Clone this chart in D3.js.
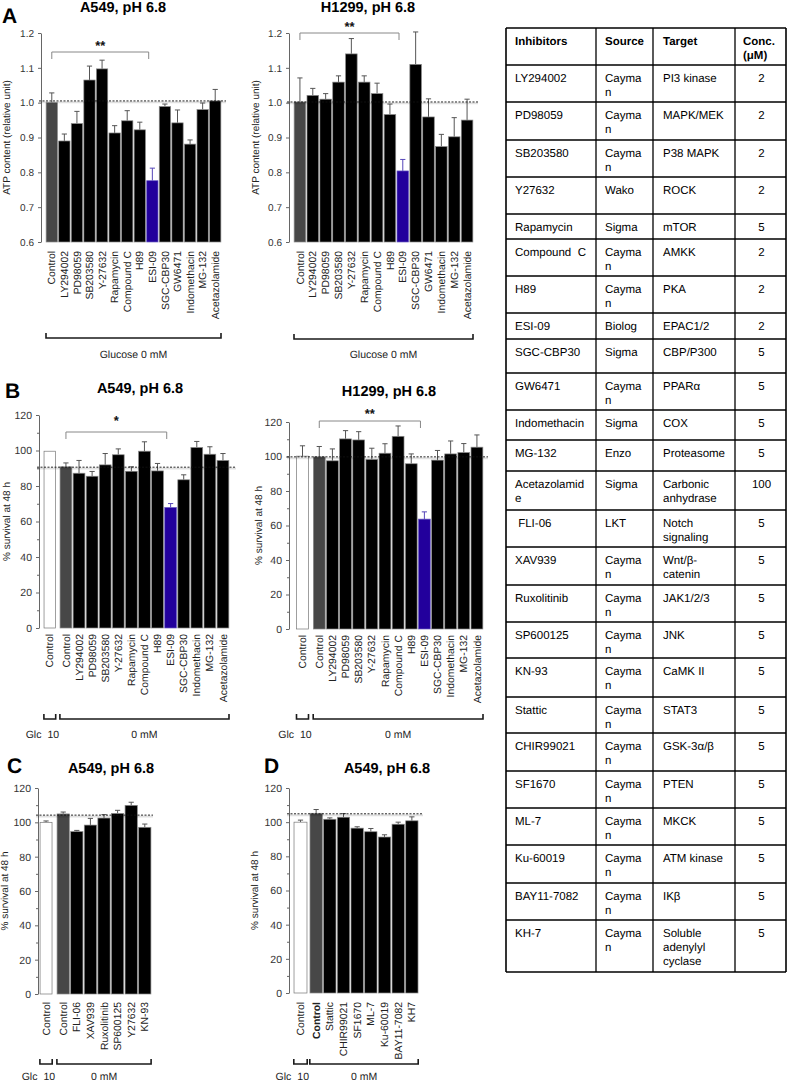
<!DOCTYPE html>
<html><head><meta charset="utf-8">
<script src="https://cdn.jsdelivr.net/npm/d3@7"></script>
<style>body{margin:0;background:#fff}svg{display:block}text{text-rendering:geometricPrecision}</style>
</head><body>
<svg id="c" width="787" height="1085"></svg>
<script>
// ---------------- DATA ----------------
const atpCats = ["Control","LY294002","PD98059","SB203580","Y-27632","Rapamycin","Compound C","H89","ESI-09","SGC-CBP30","GW6471","Indomethacin","MG-132","Acetazolamide"];
const a549Atp    = [1.000,0.890,0.940,1.065,1.097,0.913,0.948,0.922,0.776,0.989,0.942,0.881,0.980,1.005];
const a549AtpErr = [0.028,0.020,0.035,0.040,0.025,0.021,0.029,0.022,0.036,0.007,0.037,0.012,0.019,0.033];
const h1299Atp    = [1.002,1.021,1.010,1.059,1.140,1.059,1.026,0.966,0.804,1.110,0.959,0.874,0.902,0.950];
const h1299AtpErr = [0.069,0.020,0.016,0.018,0.044,0.018,0.030,0.030,0.033,0.093,0.052,0.035,0.055,0.060];
const atpTicks = [0.6,0.7,0.8,0.9,1.0,1.1,1.2];

const glc10Cats = ["Control"];
const survCatsB = ["Control","LY294002","PD98059","SB203580","Y-27632","Rapamycin","Compound C","H89","ESI-09","SGC-CBP30","Indomethacin","MG-132","Acetazolamide"];
const a549SurvGlc10 = [99.6], a549SurvGlc10Err = [0];
const a549SurvB    = [90.8,87.2,85.5,91.9,97.6,88.3,99.6,88.5,67.9,83.5,101.7,97.9,94.4];
const a549SurvBErr = [2.2,7.2,2.7,6.4,3.3,2.5,5.3,4.2,2.2,2.8,3.4,4.2,3.9];
const h1299SurvGlc10 = [100.2], h1299SurvGlc10Err = [6.0];
const h1299SurvB    = [99.8,97.5,110.2,109.6,98.3,101.9,111.7,95.8,63.7,97.9,101.5,102.3,105.4];
const h1299SurvBErr = [6.0,6.9,4.8,4.8,6.5,5.5,6.0,5.7,4.2,5.6,7.5,5.2,7.1];

const survCatsC = ["Control","FLI-06","XAV939","Ruxolitinib","SP600125","Y27632","KN-93"];
const cSurvGlc10 = [100.0], cSurvGlc10Err = [0.8];
const cSurv    = [104.9,94.6,98.4,102.5,105.2,109.9,97.1];
const cSurvErr = [1.1,0.7,3.9,2.0,1.8,1.8,1.9];

const survCatsD = ["Control","Stattic","CHIR99021","SF1670","ML-7","Ku-60019","BAY11-7082","KH7"];
const dSurvGlc10 = [100.0], dSurvGlc10Err = [1.2];
const dSurv    = [105.2,101.7,102.9,96.5,94.4,91.3,98.8,100.8];
const dSurvErr = [2.2,0.8,2.1,0.8,1.9,1.3,1.2,2.3];
const survTicks = [0,20,40,60,80,100,120];
const survMinor = [10,30,50,70,90,110];

const tableHeader = ["Inhibitors","Source","Target","Conc.\n(\u03bcM)"];
const inhibitors = ["LY294002","PD98059","SB203580","Y27632","Rapamycin","Compound  C","H89","ESI-09","SGC-CBP30","GW6471","Indomethacin","MG-132","Acetazolamid\ne"," FLI-06","XAV939","Ruxolitinib","SP600125","KN-93","Stattic","CHIR99021","SF1670","ML-7","Ku-60019","BAY11-7082","KH-7"];
const sources = ["Cayma\nn","Cayma\nn","Cayma\nn","Wako","Sigma","Cayma\nn","Cayma\nn","Biolog","Sigma","Cayma\nn","Sigma","Enzo","Sigma","LKT","Cayma\nn","Cayma\nn","Cayma\nn","Cayma\nn","Cayma\nn","Cayma\nn","Cayma\nn","Cayma\nn","Cayma\nn","Cayma\nn","Cayma\nn"];
const targets = ["PI3 kinase","MAPK/MEK","P38 MAPK","ROCK","mTOR","AMKK","PKA","EPAC1/2","CBP/P300","PPAR\u03b1","COX","Proteasome","Carbonic\nanhydrase","Notch\nsignaling","Wnt/\u03b2-\ncatenin","JAK1/2/3","JNK","CaMK II","STAT3","GSK-3\u03b1/\u03b2","PTEN","MKCK","ATM kinase","IK\u03b2","Soluble\nadenylyl\ncyclase"];
const concs = ["2","2","2","2","5","2","2","2","5","5","5","5","100","5","5","5","5","5","5","5","5","5","5","5","5"];

// ---------------- LAYOUT / STYLE ----------------
const FONT = '"Liberation Sans", Arial, Helvetica, sans-serif';
const svg = d3.select("#c");
const COL = {white:"#ffffff", ctrl:"#474747", blue:"#22009c", black:"#000000"};

function barColor(kind, cat){
  if (kind === "glc10") return COL.white;
  if (cat === "Control") return COL.ctrl;
  if (cat === "ESI-09") return COL.blue;
  return COL.black;
}

function drawPanel(p){
  const g = svg.append("g");
  const y = d3.scaleLinear().domain(p.domain).range(p.yRange);

  g.append("text").attr("x",p.titleX).attr("y",p.titleY).attr("text-anchor","middle")
    .attr("font-family",FONT).attr("font-weight","bold").attr("font-size",14.5).attr("fill","#000").text(p.title);
  if (p.letter) g.append("text").attr("x",p.letterX).attr("y",p.letterY)
    .attr("font-family",FONT).attr("font-weight","bold").attr("font-size",21).attr("fill","#000").text(p.letter);

  g.append("text").attr("transform",`translate(${p.ytitleX},${(p.yRange[0]+p.yRange[1])/2}) rotate(-90)`)
    .attr("text-anchor","middle").attr("font-family",FONT).attr("font-size",10).attr("fill","#222").text(p.ytitle);

  const ax = d3.axisLeft(y).tickValues(p.ticks).tickFormat(p.fmt).tickSize(3).tickSizeOuter(0).tickPadding(4);
  const axg = g.append("g").attr("transform",`translate(${p.axisX},0)`).call(ax);
  axg.attr("font-family",FONT).attr("font-size",p.tickFont);
  axg.select(".domain").attr("stroke","#666");
  axg.selectAll(".tick line").attr("stroke","#666");
  axg.selectAll(".tick text").attr("fill","#333");
  if (p.minor){
    const mg = g.append("g").attr("transform",`translate(${p.axisX},0)`)
      .call(d3.axisLeft(y).tickValues(p.minor).tickSize(2).tickSizeOuter(0).tickFormat(""));
    mg.select(".domain").remove();
    mg.selectAll(".tick line").attr("stroke","#666");
  }

  const scales = {};
  p.groups.forEach(gr => {
    const x = d3.scaleBand().domain(gr.cats).range(gr.range).paddingInner(0.1).paddingOuter(0.05);
    scales[gr.kind] = x;
    const data = gr.cats.map((c,i)=>({c, v:gr.vals[i], e:gr.errs[i]}));
    const eg = g.append("g");
    data.filter(d=>d.e>0).forEach(d=>{
      const cx = x(d.c)+x.bandwidth()/2;
      const col = d.c==="ESI-09" && gr.kind!=="glc10" ? "#5646b8" : "#555";
      eg.append("line").attr("x1",cx).attr("x2",cx).attr("y1",y(d.v)).attr("y2",y(d.v+d.e)).attr("stroke",col).attr("stroke-width",1);
      eg.append("line").attr("x1",cx-2.6).attr("x2",cx+2.6).attr("y1",y(d.v+d.e)).attr("y2",y(d.v+d.e)).attr("stroke",col).attr("stroke-width",1);
    });
    g.append("g").selectAll("rect").data(data).join("rect")
      .attr("x",d=>x(d.c)).attr("width",x.bandwidth())
      .attr("y",d=>y(d.v)).attr("height",d=>y(p.domain[0])-y(d.v))
      .attr("fill",d=>barColor(gr.kind,d.c))
      .attr("stroke",d=>gr.kind==="glc10" ? "#777" : (d.c==="ESI-09" ? "#6a5cc4" : "#8a8a8a"))
      .attr("stroke-width",0.7);
    g.append("g").selectAll("text").data(data).join("text")
      .attr("transform",d=>`translate(${x(d.c)+x.bandwidth()/2+3.6},${p.labelTop}) rotate(-90)`)
      .attr("text-anchor","end").attr("font-family",FONT).attr("font-size",10.4).attr("fill","#222")
      .attr("font-weight",d=> (p.boldCtrl && gr.kind!=="glc10" && d.c==="Control") ? "bold" : "normal")
      .text(d=>d.c);
    const b0 = gr.range[0]+0.5, b1 = gr.range[1]-0.5;
    g.append("path").attr("d",`M${b0},${p.bracketY-5}V${p.bracketY}H${b1}V${p.bracketY-5}`)
      .attr("fill","none").attr("stroke","#1a1a1a").attr("stroke-width",1.6);
    if (gr.kind==="glc10"){
      g.append("text").attr("x",gr.range[0]-2).attr("y",p.groupLabelY).attr("text-anchor","end")
        .attr("font-family",FONT).attr("font-size",10.5).attr("fill","#222").text("Glc");
      g.append("text").attr("x",gr.range[0]+4).attr("y",p.groupLabelY).attr("text-anchor","start")
        .attr("font-family",FONT).attr("font-size",10.5).attr("fill","#222").text("10");
    } else {
      g.append("text").attr("x",(gr.range[0]+gr.range[1])/2).attr("y",p.groupLabelY).attr("text-anchor","middle")
        .attr("font-family",FONT).attr("font-size",10.5).attr("fill","#222").text(p.groupLabel);
    }
  });

  const ry = y(p.ref);
  g.append("line").attr("x1",p.axisX-2).attr("x2",p.refEnd).attr("y1",ry+1.4).attr("y2",ry+1.4)
    .attr("stroke","#000").attr("stroke-opacity",0.12).attr("stroke-width",2);
  g.append("line").attr("x1",p.axisX-2).attr("x2",p.refEnd).attr("y1",ry).attr("y2",ry)
    .attr("stroke","#111").attr("stroke-width",0.9).attr("stroke-dasharray","2,1.5");

  if (p.sig){
    const x = scales[p.sig.group];
    const s0 = x(p.sig.from)+x.bandwidth()/2, s1 = x(p.sig.to)+2;
    g.append("path").attr("d",`M${s0},${p.sig.y+7}V${p.sig.y}H${s1}V${p.sig.y+7}`)
      .attr("fill","none").attr("stroke","#888").attr("stroke-width",1);
    g.append("text").attr("x",(s0+s1)/2).attr("y",p.sig.textY).attr("text-anchor","middle")
      .attr("font-family",FONT).attr("font-weight","bold").attr("font-size",13).attr("fill","#111").text(p.sig.text);
  }
}

const f1 = d3.format(".1f"), f0 = d3.format("d");

drawPanel({axisX:41, domain:[0.6,1.2], yRange:[242,33], ticks:atpTicks, fmt:f1, tickFont:10,
  groups:[{kind:"glc0", cats:atpCats, vals:a549Atp, errs:a549AtpErr, range:[45.5,221.5]}],
  ref:1.005, refEnd:226, title:"A549, pH 6.8", titleX:123, titleY:12, letter:"A", letterX:2, letterY:23,
  ytitle:"ATP content (relative unit)", ytitleX:10, labelTop:251, bracketY:338, groupLabel:"Glucose 0 mM", groupLabelY:358,
  sig:{group:"glc0", from:"Control", to:"ESI-09", y:52, text:"**", textY:50}});

drawPanel({axisX:289, domain:[0.6,1.2], yRange:[242,33], ticks:atpTicks, fmt:f1, tickFont:10,
  groups:[{kind:"glc0", cats:atpCats, vals:h1299Atp, errs:h1299AtpErr, range:[293.5,473.5]}],
  ref:1.002, refEnd:478, title:"H1299, pH 6.8", titleX:368, titleY:12,
  ytitle:"ATP content (relative unit)", ytitleX:259, labelTop:251, bracketY:339, groupLabel:"Glucose 0 mM", groupLabelY:358,
  sig:{group:"glc0", from:"Control", to:"ESI-09", y:33, text:"**", textY:31}});

drawPanel({axisX:39, domain:[0,120], yRange:[628,415], ticks:survTicks, minor:survMinor, fmt:f0, tickFont:10.5,
  groups:[{kind:"glc10", cats:glc10Cats, vals:a549SurvGlc10, errs:a549SurvGlc10Err, range:[43.4,56.2]},
          {kind:"glc0", cats:survCatsB, vals:a549SurvB, errs:a549SurvBErr, range:[59.4,229.5]}],
  ref:90.6, refEnd:236, title:"A549, pH 6.8", titleX:140, titleY:393, letter:"B", letterX:5, letterY:398,
  ytitle:"% survival at 48 h", ytitleX:10, labelTop:634, bracketY:719, groupLabel:"0 mM", groupLabelY:738,
  sig:{group:"glc0", from:"Control", to:"ESI-09", y:432, text:"*", textY:425}});

drawPanel({axisX:289, domain:[0,120], yRange:[629,422], ticks:survTicks, minor:survMinor, fmt:f0, tickFont:10.5,
  groups:[{kind:"glc10", cats:glc10Cats, vals:h1299SurvGlc10, errs:h1299SurvGlc10Err, range:[296,309]},
          {kind:"glc0", cats:survCatsB, vals:h1299SurvB, errs:h1299SurvBErr, range:[312.7,483.5]}],
  ref:99.8, refEnd:488, title:"H1299, pH 6.8", titleX:389, titleY:396,
  ytitle:"% survival at 48 h", ytitleX:262, labelTop:635, bracketY:719, groupLabel:"0 mM", groupLabelY:738,
  sig:{group:"glc0", from:"Control", to:"ESI-09", y:421, text:"**", textY:418}});

drawPanel({axisX:38, domain:[0,120], yRange:[994,788], ticks:survTicks, minor:survMinor, fmt:f0, tickFont:10.5,
  groups:[{kind:"glc10", cats:glc10Cats, vals:cSurvGlc10, errs:cSurvGlc10Err, range:[39.4,52.7]},
          {kind:"glc0", cats:survCatsC, vals:cSurv, errs:cSurvErr, range:[56.4,151.6]}],
  ref:104.2, refEnd:153, title:"A549, pH 6.8", titleX:111, titleY:773, letter:"C", letterX:7, letterY:773,
  ytitle:"% survival at 48 h", ytitleX:8, labelTop:1002, bracketY:1064, groupLabel:"0 mM", groupLabelY:1080});

drawPanel({axisX:289, domain:[0,120], yRange:[993,788], ticks:survTicks, minor:survMinor, fmt:f0, tickFont:10.5,
  groups:[{kind:"glc10", cats:glc10Cats, vals:dSurvGlc10, errs:dSurvGlc10Err, range:[293.3,307.7]},
          {kind:"glc0", cats:survCatsD, vals:dSurv, errs:dSurvErr, range:[309.3,418.7]}],
  ref:104.9, refEnd:423, title:"A549, pH 6.8", titleX:387, titleY:773, letter:"D", letterX:264, letterY:773,
  ytitle:"% survival at 48 h", ytitleX:258, labelTop:1002, bracketY:1064, groupLabel:"0 mM", groupLabelY:1080, boldCtrl:true});

// ---------------- TABLE ----------------
const colX = [506, 596, 653, 735, 786];
const tableTop = 28;
const rowHeights = [37, 37,38,37,37,25,37,37,26,34,37,30,31,39,37,38,37,36,39,36,38,37,37,38,37,52];
const rowTops = [tableTop];
rowHeights.forEach((h,i)=>rowTops.push(rowTops[i]+h));
const tableBottom = rowTops[rowTops.length-1];
const tg = svg.append("g");

const rows = [tableHeader].concat(inhibitors.map((d,i)=>[d, sources[i], targets[i], concs[i]]));
rows.forEach((r,ri)=>{
  const top = rowTops[ri];
  r.forEach((cell,ci)=>{
    const lines = cell.split("\n");
    const isHead = ri===0;
    let x, anchor = "start";
    if (ci===3 && !isHead){ x = (colX[3]+colX[4])/2 + 1; anchor = "middle"; }
    else x = colX[ci] + (ci===2 ? 10 : 9) - (ci===3 ? 1 : 0);
    lines.forEach((ln,li)=>{
      tg.append("text").attr("x",x).attr("y",top+17+li*14).attr("text-anchor",anchor)
        .attr("font-family",FONT).attr("font-size",11.5).attr("fill","#000")
        .attr("font-weight",isHead?"bold":"normal").attr("xml:space","preserve").text(ln);
    });
  });
});
rowTops.forEach((yy,i)=>{
  tg.append("line").attr("x1",colX[0]).attr("x2",colX[4]).attr("y1",yy).attr("y2",yy)
    .attr("stroke","#000").attr("stroke-width",(i===0||i===rowTops.length-1)?1.6:1.3);
});
colX.forEach((xx,i)=>{
  tg.append("line").attr("x1",xx).attr("x2",xx).attr("y1",tableTop).attr("y2",tableBottom)
    .attr("stroke","#000").attr("stroke-width",(i===0||i===colX.length-1)?1.6:1.3);
});
</script>
</body></html>
